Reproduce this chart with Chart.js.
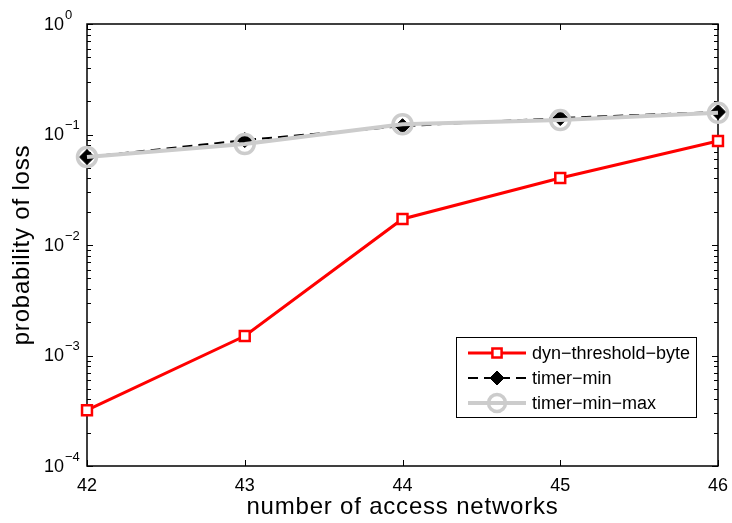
<!DOCTYPE html>
<html>
<head>
<meta charset="utf-8">
<script src="https://cdn.jsdelivr.net/npm/chart.js@4/dist/chart.umd.min.js"></script>
<style>
html,body{margin:0;padding:0;background:#fff;}
#c{display:block;}
</style>
</head>
<body>
<canvas id="c" width="732" height="523"></canvas>
<script>
const xValues = [42, 43, 44, 45, 46];
const dynThresholdByte = [3.2e-4, 1.5e-3, 0.0172, 0.0404, 0.0873];
const timerMin = [0.0625, 0.089, 0.119, 0.141, 0.16];
const timerMinMax = [0.0625, 0.082, 0.124, 0.135, 0.157];
const yDecades = [1e-4, 1e-3, 1e-2, 1e-1, 1];
const yExponents = ['\u22124', '\u22123', '\u22122', '\u22121', '0'];
const seriesNames = ['dyn\u2212threshold\u2212byte', 'timer\u2212min', 'timer\u2212min\u2212max'];
const xTitle = 'number of access networks';
const yTitle = 'probability of loss';

const FONT = "'Liberation Sans', Arial, Helvetica, sans-serif";

function pts(arr) { return xValues.map((x, i) => ({x: x, y: arr[i]})); }

const axesPlugin = {
  id: 'matlabAxes',
  beforeDatasetsDraw(chart) {
    const {ctx, chartArea: a, scales: {x, y}} = chart;
    ctx.save();
    ctx.strokeStyle = '#000';
    ctx.lineWidth = 1;
    ctx.beginPath();
    for (let d = 0; d < yDecades.length; d++) {
      const base = yDecades[d];
      const yp = Math.round(y.getPixelForValue(base)) + 0.5;
      ctx.moveTo(a.left, yp); ctx.lineTo(a.left + 6, yp);
      ctx.moveTo(a.right, yp); ctx.lineTo(a.right - 6, yp);
      if (d < yDecades.length - 1) {
        for (let m = 2; m <= 9; m++) {
          const ym = Math.round(y.getPixelForValue(base * m)) + 0.5;
          ctx.moveTo(a.left, ym); ctx.lineTo(a.left + 4, ym);
          ctx.moveTo(a.right, ym); ctx.lineTo(a.right - 4, ym);
        }
      }
    }
    xValues.forEach(v => {
      const xp = Math.round(x.getPixelForValue(v)) + 0.5;
      ctx.moveTo(xp, a.bottom); ctx.lineTo(xp, a.bottom - 6);
      ctx.moveTo(xp, a.top); ctx.lineTo(xp, a.top + 6);
    });
    ctx.stroke();
    ctx.lineWidth = 1.5;
    ctx.strokeRect(Math.round(a.left), Math.round(a.top), Math.round(a.right - a.left), Math.round(a.bottom - a.top));
    ctx.restore();
  },
  afterDraw(chart) {
    const {ctx, chartArea: a, scales: {y}} = chart;
    ctx.save();
    ctx.fillStyle = '#000';
    // y tick labels with superscripts
    yDecades.forEach((v, i) => {
      const yp = y.getPixelForValue(v);
      ctx.font = '18px ' + FONT;
      ctx.textAlign = 'left';
      ctx.textBaseline = 'middle';
      ctx.fillText('10', 44, yp + 1);
      const w = ctx.measureText('10').width;
      ctx.font = '13px ' + FONT;
      ctx.fillText(yExponents[i], 44 + w + 1, yp - 9);
    });
    // axis titles
    ctx.font = '24px ' + FONT;
    try { ctx.letterSpacing = '0.8px'; } catch (e) {}
    ctx.textAlign = 'center';
    ctx.textBaseline = 'middle';
    ctx.fillText(xTitle, (a.left + a.right) / 2, 507);
    ctx.save();
    ctx.translate(22, (a.top + a.bottom) / 2);
    ctx.rotate(-Math.PI / 2);
    ctx.fillText(yTitle, 0, 0);
    ctx.restore();
    try { ctx.letterSpacing = '0px'; } catch (e) {}
    // legend
    const lx = 456, ly = 337, lw = 240, lh = 80;
    ctx.fillStyle = '#fff';
    ctx.fillRect(lx, ly, lw, lh);
    ctx.strokeStyle = '#000';
    ctx.lineWidth = 1;
    ctx.strokeRect(lx + 0.5, ly + 0.5, lw, lh);
    const rows = [353, 378, 403];
    chart.data.datasets.forEach((ds, i) => {
      const ry = rows[i];
      ctx.save();
      ctx.strokeStyle = ds.borderColor;
      ctx.lineWidth = ds.borderWidth;
      ctx.setLineDash(ds.borderDash || []);
      ctx.beginPath();
      ctx.moveTo(468, ry); ctx.lineTo(526, ry);
      ctx.stroke();
      ctx.setLineDash([]);
      ctx.fillStyle = ds.pointBackgroundColor;
      ctx.strokeStyle = ds.pointBorderColor;
      ctx.lineWidth = ds.pointBorderWidth;
      Chart.helpers.drawPoint(ctx, {pointStyle: ds.pointStyle, radius: ds.legendRadius, rotation: 0, borderWidth: ds.pointBorderWidth}, 497, ry);
      ctx.restore();
      ctx.fillStyle = '#000';
      ctx.font = '18px ' + FONT;
      ctx.textAlign = 'left';
      ctx.textBaseline = 'middle';
      ctx.fillText(seriesNames[i], 532, ry + 1);
    });
    ctx.restore();
  }
};

new Chart(document.getElementById('c'), {
  type: 'line',
  data: {
    datasets: [
      {
        label: seriesNames[0],
        data: pts(dynThresholdByte),
        borderColor: '#ff0000',
        borderWidth: 3,
        pointStyle: 'rect',
        pointRadius: 7,
        legendRadius: 6.5,
        pointBorderWidth: 2.5,
        pointBackgroundColor: '#ffffff',
        pointBorderColor: '#ff0000',
        order: 2,
        clip: false
      },
      {
        label: seriesNames[1],
        data: pts(timerMin),
        borderColor: '#000000',
        borderWidth: 2,
        borderDash: [10, 6],
        pointStyle: 'rectRot',
        pointRadius: 7.5,
        legendRadius: 7,
        pointBorderWidth: 1,
        pointBackgroundColor: '#000000',
        pointBorderColor: '#000000',
        order: 1,
        clip: false
      },
      {
        label: seriesNames[2],
        data: pts(timerMinMax),
        borderColor: '#cccccc',
        borderWidth: 4,
        pointStyle: 'circle',
        pointRadius: 9.5,
        legendRadius: 8.5,
        pointBorderWidth: 3.5,
        pointBackgroundColor: 'rgba(0,0,0,0)',
        pointBorderColor: '#cccccc',
        order: 0,
        clip: false
      }
    ]
  },
  options: {
    responsive: false,
    animation: false,
    devicePixelRatio: 1,
    layout: {padding: {left: 0, right: 14, top: 24, bottom: 0}},
    plugins: {legend: {display: false}, tooltip: {enabled: false}},
    elements: {line: {tension: 0}},
    scales: {
      x: {
        type: 'linear',
        min: 42, max: 46,
        afterBuildTicks: s => { s.ticks = xValues.map(v => ({value: v})); },
        grid: {display: false, drawTicks: false},
        border: {display: false},
        ticks: {color: '#000', font: {family: FONT, size: 18}, padding: 9, maxRotation: 0,
                callback: v => String(v)},
        title: {display: false},
        afterFit: s => { s.height = 57; s.paddingLeft = 0; s.paddingRight = 0; }
      },
      y: {
        type: 'logarithmic',
        min: 1e-4, max: 1,
        grid: {display: false, drawTicks: false},
        border: {display: false},
        ticks: {display: false},
        title: {display: false},
        afterFit: s => { s.width = 87; s.paddingTop = 0; s.paddingBottom = 0; }
      }
    }
  },
  plugins: [axesPlugin]
});
</script>
</body>
</html>
